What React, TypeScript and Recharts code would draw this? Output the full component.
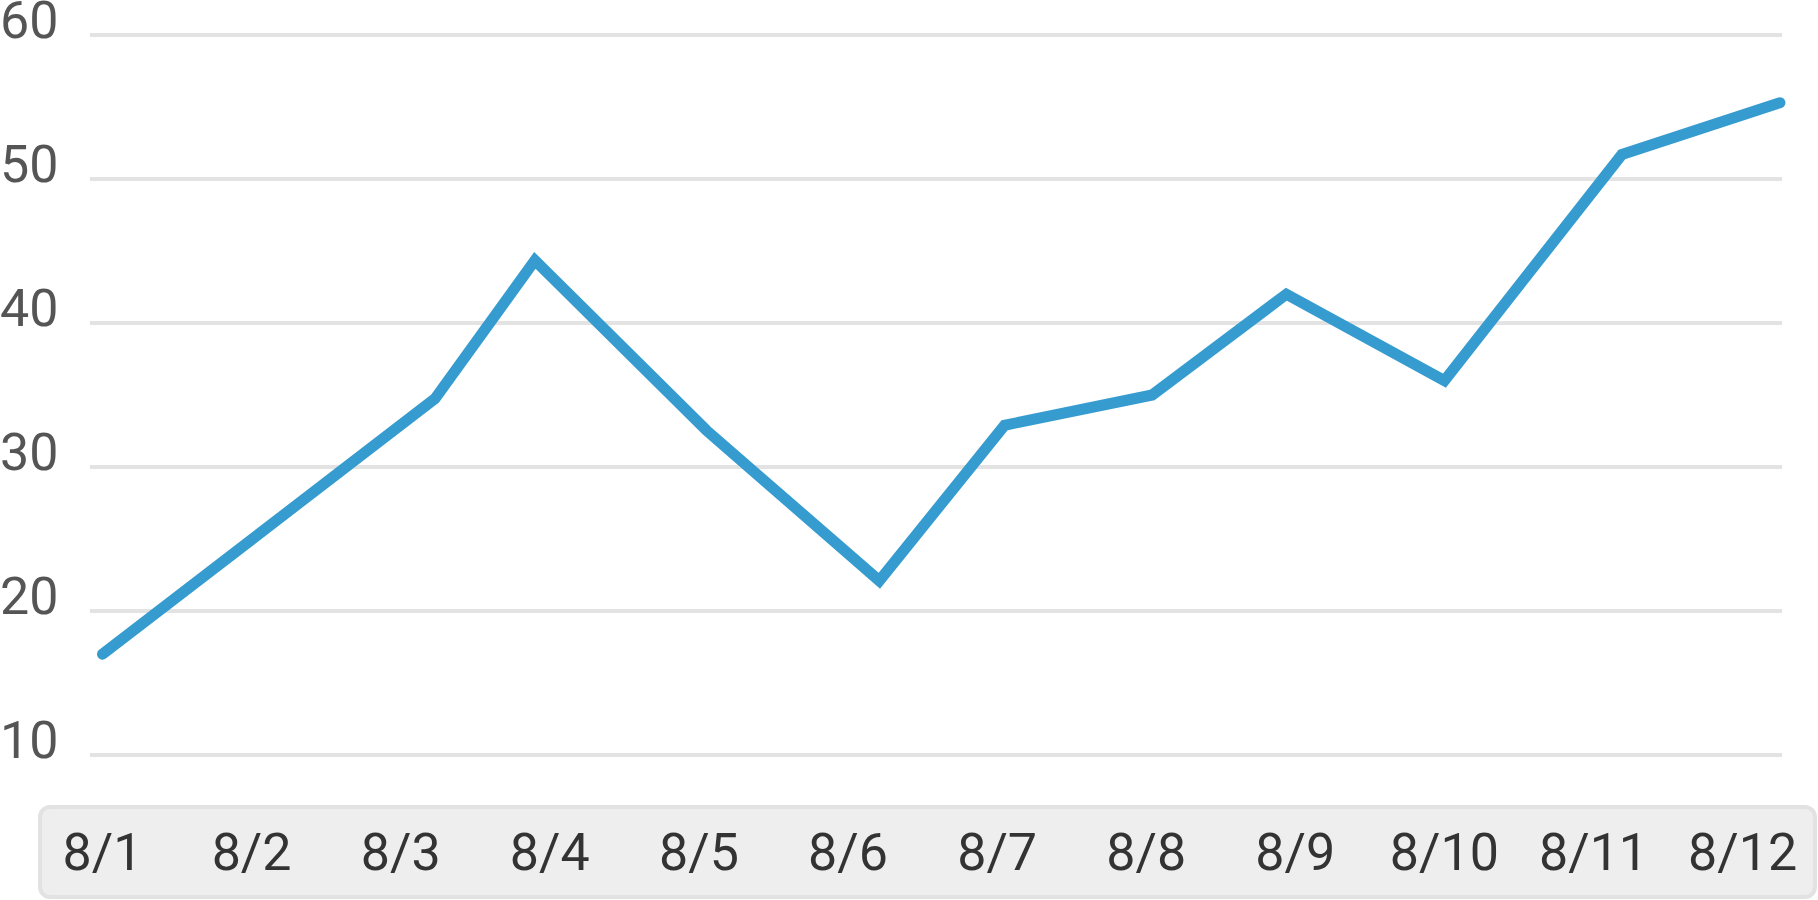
import React from 'react';
import { LineChart, Line, XAxis, YAxis, CartesianGrid } from 'recharts';

// day labels along the bottom strip (tick i -> dayLabels[i])
const dayLabels = ['8/1', '8/2', '8/3', '8/4', '8/5', '8/6', '8/7', '8/8', '8/9', '8/10', '8/11', '8/12'];
// sample positions, in days counted from 8/1
const sampleDays = [0, 2.23, 2.9, 4.05, 5.21, 6.05, 7.04, 7.94, 9.0, 10.19, 11.25];
const sampleValues = [17.0, 34.75, 44.35, 32.55, 22.1, 32.9, 35.0, 42.0, 36.0, 51.7, 55.3];
const yTicks = [10, 20, 30, 40, 50, 60];

const chartData = sampleDays.map((d, i) => ({ day: d, value: sampleValues[i] }));
const dayTicks = dayLabels.map((_, i) => i);

const FONT = 'Roboto, "Noto Sans", sans-serif';

function YTick({ y, payload }: any) {
  return (
    <text x={0} y={y + 3} fill="#555" fontSize={52} fontFamily={FONT} textAnchor="start">
      {payload.value}
    </text>
  );
}

function XTick({ x, payload }: any) {
  return (
    <text x={x} y={870} fill="#333" fontSize={52} fontFamily={FONT} textAnchor="middle">
      {dayLabels[payload.value]}
    </text>
  );
}

export default function App() {
  return (
    <div style={{ position: 'absolute', left: 0, top: 0, width: 1818, height: 900, background: '#fff' }}>
      {/* grey strip behind the day labels */}
      <div
        style={{
          position: 'absolute', left: 38, top: 805, width: 1779, height: 94,
          boxSizing: 'border-box', border: '4px solid #e2e2e2', borderRadius: 12, background: '#eeeeee',
        }}
      />
      <div style={{ position: 'absolute', left: 0, top: 0 }}>
        <LineChart width={1818} height={900} data={chartData} margin={{ top: 35, right: 36, bottom: 0, left: 0 }}>
          <CartesianGrid vertical={false} stroke="#e3e3e3" strokeWidth={4} />
          <XAxis
            type="number"
            dataKey="day"
            domain={[-0.0838, 11.264]}
            ticks={dayTicks}
            interval={0}
            height={145}
            axisLine={false}
            tickLine={false}
            tick={<XTick />}
          />
          <YAxis
            domain={[10, 60]}
            ticks={yTicks}
            width={90}
            axisLine={false}
            tickLine={false}
            tick={<YTick />}
          />
          <Line
            type="linear"
            dataKey="value"
            stroke="#369ccf"
            strokeWidth={11}
            strokeLinecap="round"
            strokeLinejoin="miter"
            dot={false}
            activeDot={false}
            isAnimationActive={false}
          />
        </LineChart>
      </div>
    </div>
  );
}
